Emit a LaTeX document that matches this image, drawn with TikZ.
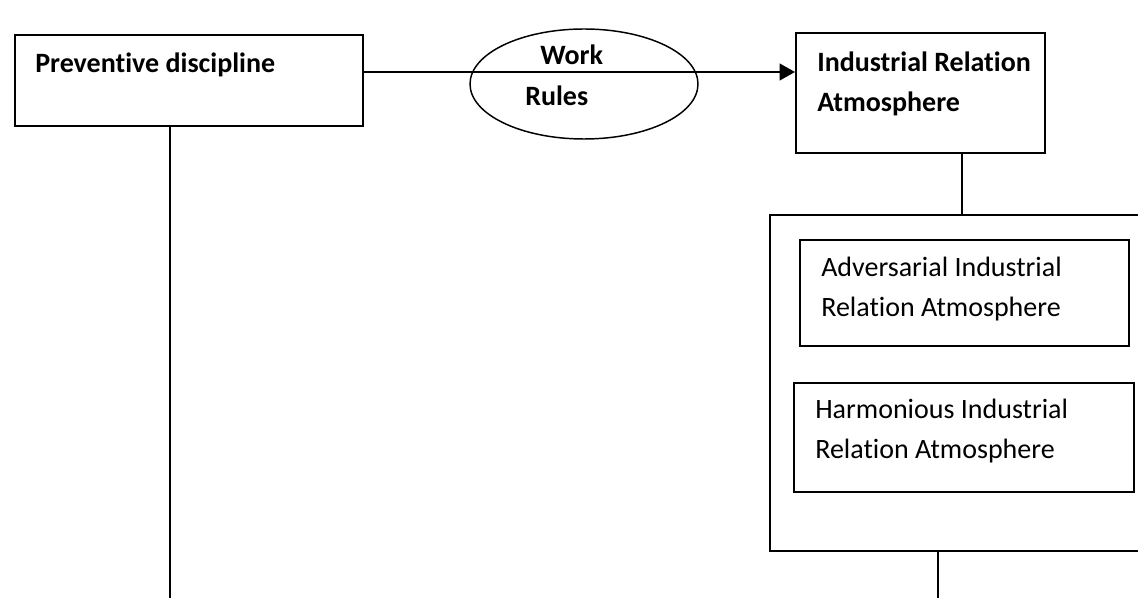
\documentclass[tikz,border=0pt]{standalone}
\usepackage{fontspec}
\setmainfont[Ligatures={NoCommon}]{Carlito}
\usetikzlibrary{fit,arrows.meta,shapes.geometric}
\begin{document}
\begin{tikzpicture}[x=0.75pt,y=-0.75pt,
  box/.style={draw, line width=1.5pt, inner sep=0pt},
  lbl/.style={anchor=base west, inner sep=0pt, align=left, font=\fontsize{21}{30}\selectfont},
  blbl/.style={lbl, font=\fontsize{21}{30}\selectfont\bfseries},
  link/.style={line width=1.5pt},
  oval/.style={draw, ellipse, line width=1.1pt, inner sep=0pt, minimum width=171pt, minimum height=82.5pt}
  ]
\path[use as bounding box] (0,0) rectangle (1138,598);
\clip (0,0) rectangle (1138,598);
% boxes
\node[box, fit={(15,35) (363,126)}] (pd) {};
\node[box, fit={(796,33) (1045,153)}] (ir) {};
\node[box, fit={(770,215) (1180,551)}] (at) {};
\node[box, fit={(800,240) (1129,346)}] (adv) {};
\node[box, fit={(794,383) (1134,492)}] (har) {};
\node[oval] (wr) at (584,84) {};
% texts (multi-line nodes are placed by the baseline of their last line)
\node[blbl] (tpd) at (35,73) {Preventive discipline};
\node[blbl] (tir) at (817,112) {Industrial Relation\\Atmosphere};
\node[blbl] (tw) at (540,65) {Work};
\node[blbl] (tr) at (525,106) {Rules};
\node[lbl] (tadv) at (821,317) {Adversarial Industrial\\Relation Atmosphere};
\node[lbl] (thar) at (815,458) {Harmonious Industrial\\Relation Atmosphere};
% connectors
\coordinate (ay) at (0,72);
\draw[link,-{Triangle[length=11.5pt,width=12.5pt]}] (pd.east |- ay) -- (ir.west |- ay);
\coordinate (e1) at (170,598);
\draw[link] (e1 |- pd.south) -- (e1);
\coordinate (c2) at (962,0);
\draw[link] (c2 |- ir.south) -- (c2 |- at.north);
\coordinate (e3) at (938,598);
\draw[link] (e3 |- at.south) -- (e3);
\end{tikzpicture}
\end{document}
